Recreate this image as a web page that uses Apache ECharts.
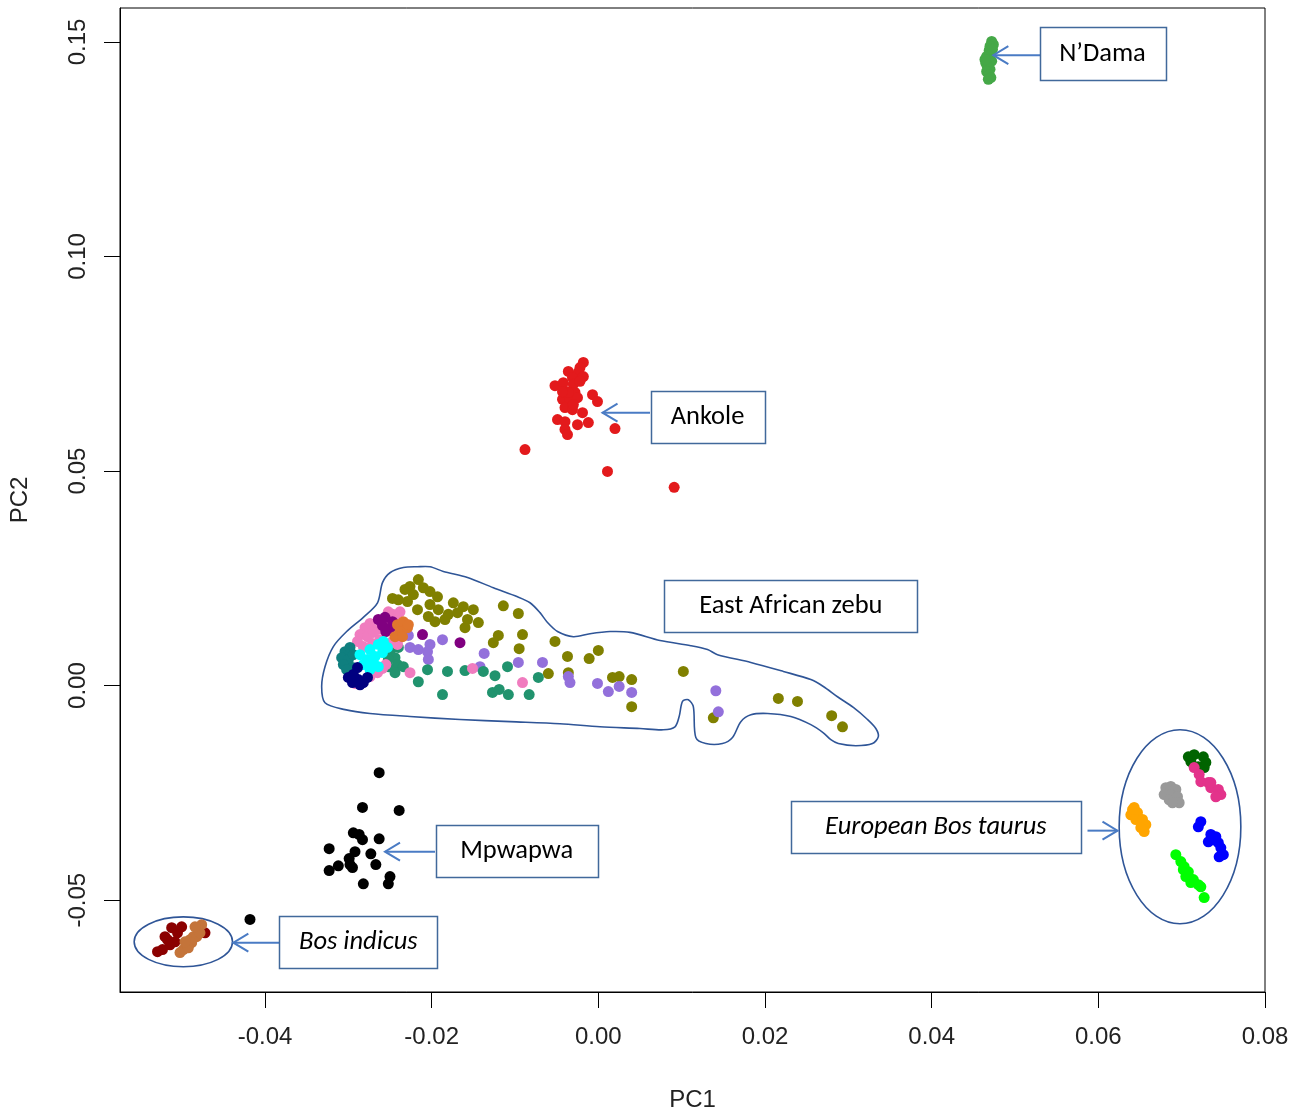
<!DOCTYPE html>
<html>
<head>
<meta charset="utf-8">
<script src="https://cdn.jsdelivr.net/npm/echarts@6/dist/echarts.min.js"></script>
<style>
  html, body { margin: 0; padding: 0; background: #ffffff; }
  #chart { width: 1292px; height: 1112px; }
</style>
</head>
<body>
<div id="chart"></div>
<script>
// ---- Axis ticks ----
const xTicks = [-0.04, -0.02, 0.00, 0.02, 0.04, 0.06, 0.08];
const yTicks = [-0.05, 0.00, 0.05, 0.10, 0.15];

// ---- PC1 / PC2 scores per population ----
const nDama = [[0.0472,0.1501],[0.0474,0.1494],[0.0470,0.1490],[0.0469,0.1480],[0.0471,0.1473],[0.0466,0.1466],[0.0469,0.1459],[0.0472,0.1455],[0.0465,0.1450],[0.0467,0.1443],[0.0470,0.1436],[0.0466,0.1431],[0.0469,0.1424],[0.0471,0.1417],[0.0468,0.1413],[0.0473,0.1483],[0.0464,0.1459]];

const ankole = [[-0.0018,0.0753],[-0.0022,0.0741],[-0.0024,0.0730],[-0.0018,0.0720],[-0.0036,0.0732],[-0.0031,0.0718],[-0.0052,0.0699],[-0.0042,0.0706],[-0.0030,0.0702],[-0.0022,0.0709],[-0.0037,0.0685],[-0.0028,0.0683],[-0.0043,0.0667],[-0.0034,0.0667],[-0.0025,0.0671],[-0.0007,0.0678],[-0.0001,0.0662],[-0.0040,0.0648],[-0.0031,0.0643],[-0.0019,0.0636],[-0.0049,0.0620],[-0.0040,0.0615],[-0.0025,0.0608],[-0.0012,0.0613],[-0.0040,0.0597],[-0.0037,0.0585],[0.0020,0.0599],[-0.0088,0.0550],[0.0011,0.0499],[0.0091,0.0462],[-0.0036,0.0683],[-0.0030,0.0655],[-0.0043,0.0685]];

const zebuOlive = [[-0.0216,0.0247],[-0.0226,0.0231],[-0.0210,0.0228],[-0.0202,0.0219],[-0.0240,0.0200],[-0.0229,0.0196],[-0.0222,0.0212],[-0.0193,0.0207],[-0.0217,0.0177],[-0.0202,0.0189],[-0.0192,0.0177],[-0.0204,0.0161],[-0.0196,0.0149],[-0.0184,0.0154],[-0.0174,0.0193],[-0.0169,0.0170],[-0.0180,0.0166],[-0.0162,0.0184],[-0.0150,0.0177],[-0.0157,0.0154],[-0.0144,0.0147],[-0.0160,0.0135],[-0.0114,0.0186],[-0.0096,0.0168],[-0.0120,0.0117],[-0.0126,0.0100],[-0.0091,0.0119],[-0.0095,0.0086],[-0.0052,0.0103],[-0.0037,0.0068],[0.0000,0.0082],[-0.0011,0.0063],[-0.0060,0.0028],[0.0017,0.0019],[0.0025,0.0021],[0.0040,0.0014],[0.0040,-0.0049],[0.0102,0.0033],[0.0138,-0.0075],[0.0216,-0.0030],[0.0239,-0.0037],[0.0280,-0.0070],[0.0293,-0.0096],[-0.0036,0.0030],[-0.0232,0.0224],[-0.0247,0.0203]];

const zebuViolet = [[-0.0228,0.0117],[-0.0226,0.0089],[-0.0216,0.0084],[-0.0205,0.0079],[-0.0202,0.0096],[-0.0187,0.0107],[-0.0204,0.0061],[-0.0137,0.0075],[-0.0142,0.0044],[-0.0096,0.0054],[-0.0067,0.0054],[-0.0036,0.0021],[-0.0034,0.0007],[-0.0001,0.0005],[0.0012,-0.0014],[0.0025,-0.0002],[0.0040,-0.0016],[0.0141,-0.0012],[0.0144,-0.0061]];

const zebuSeaGreen = [[-0.0250,0.0079],[-0.0244,0.0065],[-0.0241,0.0049],[-0.0252,0.0061],[-0.0244,0.0030],[-0.0234,0.0044],[-0.0216,0.0009],[-0.0205,0.0037],[-0.0181,0.0033],[-0.0160,0.0035],[-0.0187,-0.0021],[-0.0138,0.0033],[-0.0124,0.0023],[-0.0109,0.0044],[-0.0127,-0.0016],[-0.0119,-0.0009],[-0.0108,-0.0021],[-0.0083,-0.0021],[-0.0072,0.0019],[-0.0240,0.0089],[-0.0252,0.0044]];

const zebuPink = [[-0.0247,0.0166],[-0.0244,0.0154],[-0.0280,0.0135],[-0.0274,0.0145],[-0.0265,0.0131],[-0.0286,0.0119],[-0.0277,0.0114],[-0.0289,0.0103],[-0.0282,0.0091],[-0.0270,0.0124],[-0.0258,0.0149],[-0.0252,0.0172],[-0.0265,0.0030],[-0.0259,0.0040],[-0.0255,0.0049],[-0.0274,0.0021],[-0.0292,0.0005],[-0.0226,0.0030],[-0.0247,0.0103],[-0.0241,0.0096],[-0.0151,0.0040],[-0.0091,0.0007],[-0.0262,0.0107],[-0.0271,0.0098],[-0.0238,0.0172]];

const zebuPurple = [[-0.0264,0.0154],[-0.0256,0.0159],[-0.0247,0.0149],[-0.0259,0.0140],[-0.0250,0.0133],[-0.0255,0.0126],[-0.0211,0.0119],[-0.0166,0.0100]];

const zebuOrange = [[-0.0241,0.0142],[-0.0234,0.0149],[-0.0238,0.0126],[-0.0229,0.0135],[-0.0244,0.0114],[-0.0235,0.0114],[-0.0228,0.0142]];

const zebuTeal = [[-0.0304,0.0079],[-0.0298,0.0089],[-0.0308,0.0065],[-0.0300,0.0061],[-0.0306,0.0049],[-0.0295,0.0042],[-0.0302,0.0037],[-0.0294,0.0072]];

const zebuCyan = [[-0.0286,0.0072],[-0.0274,0.0084],[-0.0264,0.0096],[-0.0258,0.0103],[-0.0277,0.0061],[-0.0268,0.0068],[-0.0259,0.0077],[-0.0282,0.0049],[-0.0270,0.0054],[-0.0274,0.0037],[-0.0253,0.0089],[-0.0264,0.0044]];

const zebuNavy = [[-0.0300,0.0019],[-0.0294,0.0026],[-0.0288,0.0014],[-0.0282,0.0007],[-0.0295,0.0007],[-0.0289,0.0042],[-0.0277,0.0019],[-0.0286,0.0002]];

const mpwapwa = [[-0.0263,-0.0203],[-0.0283,-0.0284],[-0.0239,-0.0291],[-0.0294,-0.0343],[-0.0287,-0.0347],[-0.0283,-0.0359],[-0.0263,-0.0357],[-0.0323,-0.0380],[-0.0292,-0.0387],[-0.0273,-0.0392],[-0.0299,-0.0403],[-0.0312,-0.0420],[-0.0298,-0.0417],[-0.0267,-0.0417],[-0.0323,-0.0431],[-0.0295,-0.0424],[-0.0250,-0.0445],[-0.0252,-0.0462],[-0.0282,-0.0462],[-0.0418,-0.0545]];

const indicusDark = [[-0.0512,-0.0564],[-0.0520,-0.0585],[-0.0505,-0.0576],[-0.0523,-0.0615],[-0.0514,-0.0604],[-0.0529,-0.0620],[-0.0508,-0.0597],[-0.0500,-0.0562],[-0.0472,-0.0576],[-0.0517,-0.0592]];

const indicusBrown = [[-0.0476,-0.0557],[-0.0480,-0.0569],[-0.0486,-0.0585],[-0.0490,-0.0592],[-0.0494,-0.0604],[-0.0498,-0.0615],[-0.0502,-0.0622],[-0.0482,-0.0585],[-0.0488,-0.0599],[-0.0478,-0.0576],[-0.0492,-0.0611],[-0.0484,-0.0562],[-0.0496,-0.0597]];

const taurusDarkGreen = [[0.0708,-0.0166],[0.0715,-0.0161],[0.0726,-0.0166],[0.0729,-0.0179],[0.0720,-0.0189],[0.0711,-0.0177],[0.0727,-0.0191]];
const taurusPink = [[0.0715,-0.0191],[0.0721,-0.0207],[0.0723,-0.0224],[0.0732,-0.0226],[0.0735,-0.0238],[0.0744,-0.0242],[0.0747,-0.0254],[0.0741,-0.0259],[0.0735,-0.0226]];
const taurusGray = [[0.0681,-0.0238],[0.0687,-0.0235],[0.0693,-0.0242],[0.0679,-0.0254],[0.0687,-0.0254],[0.0695,-0.0259],[0.0685,-0.0266],[0.0697,-0.0273],[0.0689,-0.0273]];
const taurusOrange = [[0.0643,-0.0284],[0.0647,-0.0296],[0.0639,-0.0301],[0.0645,-0.0312],[0.0653,-0.0312],[0.0657,-0.0324],[0.0651,-0.0331],[0.0655,-0.0340],[0.0641,-0.0289]];
const taurusBlue = [[0.0723,-0.0317],[0.0720,-0.0329],[0.0735,-0.0347],[0.0741,-0.0352],[0.0732,-0.0364],[0.0744,-0.0366],[0.0747,-0.0378],[0.0750,-0.0394],[0.0745,-0.0399],[0.0738,-0.0359]];
const taurusLime = [[0.0693,-0.0394],[0.0699,-0.0410],[0.0703,-0.0422],[0.0708,-0.0434],[0.0705,-0.0445],[0.0714,-0.0452],[0.0720,-0.0464],[0.0711,-0.0459],[0.0723,-0.0469],[0.0727,-0.0494],[0.0702,-0.0429]];

// Hand-drawn outline around the East African zebu cloud (PC1, PC2)
const zebuOutline = [[-0.0328,-0.0040],[-0.0332,-0.0002],[-0.0328,0.0044],[-0.0318,0.0091],[-0.0302,0.0126],[-0.0282,0.0159],[-0.0265,0.0193],[-0.0259,0.0240],[-0.0250,0.0263],[-0.0234,0.0275],[-0.0217,0.0277],[-0.0202,0.0277],[-0.0186,0.0266],[-0.0157,0.0252],[-0.0126,0.0228],[-0.0097,0.0207],[-0.0082,0.0193],[-0.0070,0.0170],[-0.0061,0.0147],[-0.0049,0.0126],[-0.0030,0.0114],[-0.0010,0.0121],[0.0014,0.0126],[0.0038,0.0124],[0.0074,0.0105],[0.0111,0.0093],[0.0131,0.0084],[0.0143,0.0072],[0.0183,0.0054],[0.0222,0.0033],[0.0255,0.0014],[0.0270,-0.0002],[0.0287,-0.0026],[0.0306,-0.0051],[0.0323,-0.0079],[0.0333,-0.0100],[0.0336,-0.0119],[0.0329,-0.0135],[0.0309,-0.0140],[0.0288,-0.0135],[0.0279,-0.0126],[0.0270,-0.0110],[0.0255,-0.0091],[0.0231,-0.0072],[0.0203,-0.0065],[0.0183,-0.0068],[0.0171,-0.0084],[0.0161,-0.0121],[0.0149,-0.0135],[0.0129,-0.0135],[0.0117,-0.0121],[0.0114,-0.0049],[0.0108,-0.0033],[0.0101,-0.0037],[0.0097,-0.0072],[0.0092,-0.0096],[0.0078,-0.0103],[0.0050,-0.0100],[0.0002,-0.0096],[-0.0046,-0.0089],[-0.0106,-0.0084],[-0.0166,-0.0079],[-0.0226,-0.0072],[-0.0274,-0.0065],[-0.0304,-0.0056]];

// Population groups: series data + marker colour
const groups = [
  { name: 'N\u2019Dama',    data: nDama,          color: '#45a847' },
  { name: 'Ankole',         data: ankole,         color: '#e31a1c' },
  { name: 'EAZ olive',      data: zebuOlive,      color: '#808000' },
  { name: 'EAZ violet',     data: zebuViolet,     color: '#9370db' },
  { name: 'EAZ sea green',  data: zebuSeaGreen,   color: '#21936e' },
  { name: 'EAZ pink',       data: zebuPink,       color: '#f07cbf' },
  { name: 'EAZ purple',     data: zebuPurple,     color: '#800080' },
  { name: 'EAZ orange',     data: zebuOrange,     color: '#e0762d' },
  { name: 'EAZ teal',       data: zebuTeal,       color: '#0f7f7f' },
  { name: 'EAZ cyan',       data: zebuCyan,       color: '#00ffff' },
  { name: 'EAZ navy',       data: zebuNavy,       color: '#000080' },
  { name: 'Mpwapwa',        data: mpwapwa,        color: '#000000' },
  { name: 'Indicus 1',      data: indicusDark,    color: '#8b0000' },
  { name: 'Indicus 2',      data: indicusBrown,   color: '#c4743a' },
  { name: 'Taurus 1',       data: taurusDarkGreen,color: '#006400' },
  { name: 'Taurus 2',       data: taurusPink,     color: '#e3338b' },
  { name: 'Taurus 3',       data: taurusGray,     color: '#999999' },
  { name: 'Taurus 4',       data: taurusOrange,   color: '#ffa500' },
  { name: 'Taurus 5',       data: taurusBlue,     color: '#0000ff' },
  { name: 'Taurus 6',       data: taurusLime,     color: '#00ff00' }
];

// Call-out boxes (centre in data units, box size in px) and arrows (tail -> head, data units)
const callouts = [
  { text: 'N\u2019Dama',             italic: false, at: [0.0605, 0.1473],  w: 126, h: 53, arrow: [[0.0531, 0.1469], [0.0474, 0.1469]] },
  { text: 'Ankole',                  italic: false, at: [0.0131, 0.0627],  w: 114, h: 52, arrow: [[0.0062, 0.0636], [0.0005, 0.0636]] },
  { text: 'East African zebu',       italic: false, at: [0.0231, 0.0186],  w: 253, h: 52, arrow: null },
  { text: 'Mpwapwa',                 italic: false, at: [-0.0098, -0.0385], w: 162, h: 52, arrow: [[-0.0196, -0.0387], [-0.0256, -0.0387]] },
  { text: 'Bos indicus',             italic: true,  at: [-0.0288, -0.0597], w: 158, h: 52, arrow: [[-0.0383, -0.0599], [-0.0438, -0.0599]] },
  { text: 'European Bos taurus',     italic: true,  at: [0.0405, -0.0329],  w: 290, h: 52, arrow: [[0.0587, -0.0338], [0.0623, -0.0338]] }
];
// Ellipses: centre and radii in data units
const rings = [
  { c: [-0.0498, -0.0597], r: [0.0059, 0.0058] },
  { c: [0.0698, -0.0329],  r: [0.0073, 0.0226] }
];

const AXIS_FONT = '"Liberation Sans", Arial, sans-serif';
const NOTE_FONT = 'Carlito, Lato, "Liberation Sans", sans-serif';
const OUTLINE = '#2f5597';
const ARROW = '#4a7bc4';

const chart = echarts.init(document.getElementById('chart'), null, { renderer: 'canvas' });

chart.setOption({
  animation: false,
  backgroundColor: '#ffffff',
  grid: {
    left: 120, top: 8, width: 1145, height: 984,
    outerBoundsMode: 'none', containLabel: false,
    show: true, borderColor: '#000000', borderWidth: 1, backgroundColor: 'transparent'
  },
  xAxis: {
    type: 'value', min: -0.0574, max: 0.08,
    name: 'PC1', nameLocation: 'middle', nameGap: 96,
    nameTextStyle: { fontFamily: AXIS_FONT, fontSize: 24, color: '#222' },
    axisLine: { show: true, onZero: false, lineStyle: { color: '#000', width: 1 } },
    axisTick: { show: true, length: 16, customValues: xTicks, lineStyle: { color: '#000', width: 1 } },
    axisLabel: {
      customValues: xTicks, margin: 33,
      fontFamily: AXIS_FONT, fontSize: 24, color: '#222',
      formatter: v => v.toFixed(2)
    },
    splitLine: { show: false }
  },
  yAxis: {
    type: 'value', min: -0.0714, max: 0.1579,
    name: 'PC2', nameLocation: 'middle', nameGap: 88, nameRotate: 90,
    nameTextStyle: { fontFamily: AXIS_FONT, fontSize: 24, color: '#222' },
    axisLine: { show: true, onZero: false, lineStyle: { color: '#000', width: 1 } },
    axisTick: { show: true, length: 16, customValues: yTicks, lineStyle: { color: '#000', width: 1 } },
    axisLabel: {
      customValues: yTicks, margin: 30, rotate: 90,
      fontFamily: AXIS_FONT, fontSize: 24, color: '#222',
      formatter: v => v.toFixed(2)
    },
    splitLine: { show: false }
  },
  series: groups.map(g => ({
    type: 'scatter',
    name: g.name,
    data: g.data,
    symbol: 'circle',
    symbolSize: 11,
    itemStyle: { color: g.color, opacity: 1 },
    emphasis: { disabled: true },
    silent: true
  }))
});

// ---- annotation layer, positioned through the grid's coordinate system ----
const toPx = p => chart.convertToPixel({ gridIndex: 0 }, p);
const elements = [];

// zebu outline
elements.push({
  type: 'polygon', z: 1, silent: true,
  shape: { points: zebuOutline.map(toPx), smooth: 0.3 },
  style: { fill: 'none', stroke: OUTLINE, lineWidth: 1.6 }
});

// ellipses
rings.forEach(r => {
  const c = toPx(r.c);
  const ex = toPx([r.c[0] + r.r[0], r.c[1]]);
  const ey = toPx([r.c[0], r.c[1] + r.r[1]]);
  elements.push({
    type: 'ellipse', z: 1, silent: true,
    shape: { cx: c[0], cy: c[1], rx: Math.abs(ex[0] - c[0]), ry: Math.abs(c[1] - ey[1]) },
    style: { fill: 'none', stroke: OUTLINE, lineWidth: 1.6 }
  });
});

// boxes, labels and arrows
callouts.forEach(cl => {
  const c = toPx(cl.at);
  elements.push({
    type: 'rect', z: 50, silent: true,
    shape: { x: Math.round(c[0] - cl.w / 2) + 0.5, y: Math.round(c[1] - cl.h / 2) + 0.5, width: cl.w, height: cl.h },
    style: { fill: '#ffffff', stroke: '#41699b', lineWidth: 1.5 }
  });
  elements.push({
    type: 'text', z: 51, silent: true,
    x: c[0], y: c[1] + 1,
    style: {
      text: cl.text, fill: '#000000',
      font: (cl.italic ? 'italic ' : '') + '26.5px ' + NOTE_FONT,
      align: 'center', verticalAlign: 'middle'
    }
  });
  if (cl.arrow) {
    const p0 = toPx(cl.arrow[0]);
    const p1 = toPx(cl.arrow[1]);
    const dx = p1[0] - p0[0], dy = p1[1] - p0[1];
    const len = Math.hypot(dx, dy);
    const ux = dx / len, uy = dy / len;
    const L = 15, W = 9;
    elements.push({
      type: 'line', z: 40, silent: true,
      shape: { x1: p0[0], y1: p0[1], x2: p1[0], y2: p1[1] },
      style: { stroke: ARROW, lineWidth: 2 }
    });
    elements.push({
      type: 'polyline', z: 40, silent: true,
      shape: { points: [
        [p1[0] - ux * L - uy * W, p1[1] - uy * L + ux * W],
        [p1[0], p1[1]],
        [p1[0] - ux * L + uy * W, p1[1] - uy * L - ux * W]
      ] },
      style: { stroke: ARROW, lineWidth: 2, fill: 'none' }
    });
  }
});

chart.setOption({ graphic: { elements } });
</script>
</body>
</html>
